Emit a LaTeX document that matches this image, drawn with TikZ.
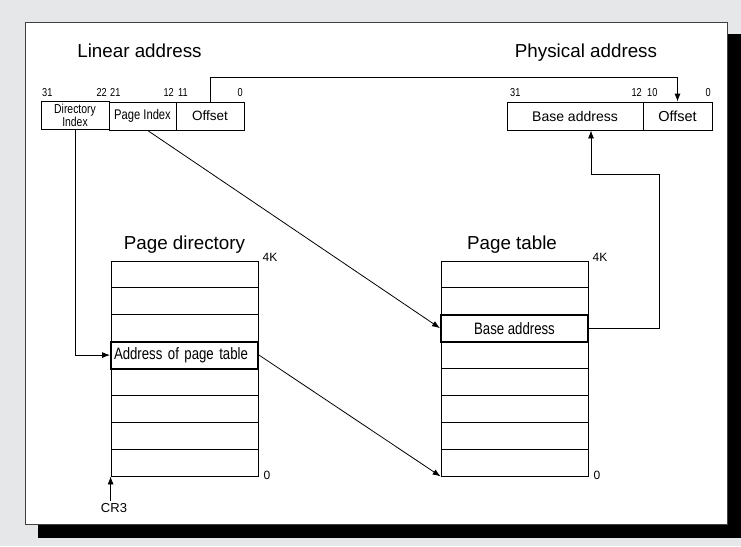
\documentclass[tikz,border=0pt]{standalone}
\usepackage{fontspec}
\setmainfont{Liberation Sans}
\newfontfamily\narrowfont[FakeStretch=0.8]{Liberation Sans}
\usetikzlibrary{arrows.meta}
\definecolor{bggray}{RGB}{230,231,233}
\tikzset{
    field/.style={draw, line width=0.8pt, inner sep=0pt, minimum height=28pt, font=\fontsize{13.5}{14}\selectfont},
    row/.style={draw, line width=0.8pt, inner sep=0pt, minimum width=147pt, minimum height=26.875pt},
    hlrow/.style={row, line width=2pt, font=\narrowfont\fontsize{16.5}{17}\selectfont},
    title/.style={anchor=base, inner sep=0pt, font=\fontsize{18.8}{20}\selectfont},
    bit/.style={inner sep=0pt, anchor=base, font=\narrowfont\fontsize{11.5}{12}\selectfont},
    mark label/.style={inner sep=0pt, anchor=base west, font=\fontsize{12}{13}\selectfont},
    conn/.style={line width=0.8pt, -{Latex[length=8pt,width=6pt]}}
}
\begin{document}
\begin{tikzpicture}[x=1pt, y=-1pt]
        % Background and panel
        \fill[bggray] (0,0) rectangle (741,546);
        \useasboundingbox (0,0) rectangle (741,546);
        \fill[black] (38,34) rectangle (741,538);
        \draw[fill=white, line width=1pt, draw=black!75] (25,22) rectangle (727,524);
        % Linear address
        \node[title] (lintitle) at (139.5,57) {Linear address};
        \node[field, minimum width=68pt, align=center, font=\narrowfont\fontsize{13}{9.5}\selectfont] (dir) at (75,115) {Directory\\Index};
        \node[field, minimum width=67pt, font=\narrowfont\fontsize{14}{15}\selectfont] (pidx) at (142.5,116) {Page Index};
        \node[field, minimum width=68pt] (off) at (210,116) {Offset};
        \foreach \n/\x/\a/\t in {l31/42/west/31, l22/107/east/22, l21/110/west/21, l12/174/east/12, l11/178/west/11, l0/243/east/0}
            \node[bit, anchor=base \a] (\n) at (\x,96) {\t};
        % Physical address
        \node[title] (phystitle) at (586,57) {Physical address};
        \node[field, minimum width=136pt, font=\fontsize{14}{15}\selectfont] (pbase) at (575,116) {Base address};
        \node[field, minimum width=69pt, font=\fontsize{14.5}{15}\selectfont] (poff) at (677.5,116) {Offset};
        \foreach \n/\x/\a/\t in {p31/510/west/31, p12/642/east/12, p10/647/west/10, p0/711/east/0}
            \node[bit, anchor=base \a] (\n) at (\x,96) {\t};
        % Page directory
        \node[title] (pdtitle) at (184.5,249) {Page directory};
        \foreach \i in {1,2,3,5,6,7,8}
            \node[row] (pd\i) at (184.5,{261+26.875*(\i-0.5)}) {};
        \node[hlrow, text width=141pt, align=left, inner xsep=3pt] (pd4) at (184.5,{261+26.875*3.5}) {Address of page table};
        \node[mark label] (pd4k) at ([xshift=4pt,yshift=-1pt]pd1.north east) {4K};
        \node[mark label] (pdzero) at ([xshift=5pt,yshift=-3pt]pd8.south east) {0};
        \node[inner sep=0pt, anchor=base, font=\fontsize{13}{14}\selectfont] (cr3) at (114,512) {CR3};
        % Page table
        \node[title] (pttitle) at (512,249) {Page table};
        \foreach \i in {1,2,4,5,6,7,8}
            \node[row] (pt\i) at (514.5,{261+26.875*(\i-0.5)}) {};
        \node[hlrow] (pt3) at (514.5,{261+26.875*2.5}) {Base address};
        \node[mark label] (pt4k) at ([xshift=4pt,yshift=-1pt]pt1.north east) {4K};
        \node[mark label] (ptzero) at ([xshift=5pt,yshift=-3pt]pt8.south east) {0};
        % Connectors
        \coordinate (linktop) at (0,77);
        \coordinate (baseturn) at (659,174);
        \draw[conn] (off.north) -- (off.north |- linktop) -| (poff.north);
        \draw[conn] (dir.south) |- (pd4.west);
        \draw[conn] ([xshift=5pt]pidx.south) -- (pt3.west);
        \draw[conn] (pd4.east) -- (pt8.south west);
        \draw[conn] (pt3.east) -| (baseturn) -| ([xshift=16pt]pbase.south);
        \draw[conn] ([yshift=2pt]pd8.south west |- cr3.north) -- (pd8.south west);
    \end{tikzpicture}
\end{document}
